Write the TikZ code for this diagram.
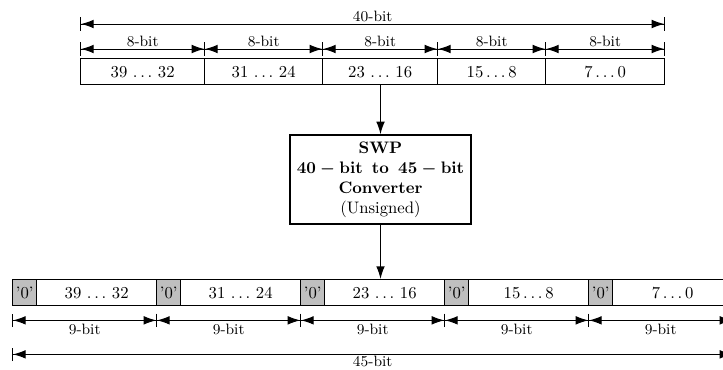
\documentclass[tikz,border=0pt]{standalone}
\usetikzlibrary{arrows.meta,positioning}
\newlength\px
\setlength\px{0.6pt}
\tikzset{
  cell/.style={draw,thick,minimum height=26\px,inner sep=0pt,anchor=north west},
  zerocell/.style={cell,fill=black!25,minimum width=24\px},
  datacell/.style={cell,minimum width=120\px},
  dimline/.style={semithick,{Bar[width=8pt]Latex[length=7.6pt,width=5.2pt]}-{Latex[length=7.6pt,width=5.2pt]Bar[width=8pt]}},
  dimlabel/.style={font=\small,inner sep=1pt},
  flow/.style={-{Latex[length=7.6pt,width=5.2pt]},thick}
}
\begin{document}
\begin{tikzpicture}[x=\px,y=-\px]
\useasboundingbox (0,0) rectangle (723,369);
% 40-bit input word
\foreach \n/\x/\w/\t in {a/80/124/{39 $\ldots$ 32},b/204/118/{31 $\ldots$ 24},c/322/115/{23 $\ldots$ 16},d/437/108/{$15\ldots8$},e/545/119/{$7\ldots0$}}{
  \node[cell,minimum width=\w\px] (in\n) at (\x,58) {\t};
  \draw[dimline] ([yshift=9\px]in\n.north west) -- node[dimlabel,above]{8-bit} ([yshift=9\px]in\n.north east);
}
\draw[dimline] ([yshift=34\px]ina.north west) -- node[dimlabel,above]{40-bit} ([yshift=34\px]ine.north east);
% converter
\node[draw,thick,minimum width=181\px,minimum height=89\px,align=center,inner sep=2pt] (swp) at (380.5,179.5)
  {\textbf{SWP}\\\textbf{\boldmath$40-\mathrm{bit}$\ \,to\ \,\boldmath$45-\mathrm{bit}$}\\\textbf{Converter}\\(Unsigned)};
% 45-bit output word
\foreach \n/\x/\t in {a/12/{39 $\ldots$ 32},b/156/{31 $\ldots$ 24},c/300/{23 $\ldots$ 16},d/444/{$15\ldots8$},e/588/{$7\ldots0$}}{
  \node[zerocell] (zero\n) at (\x,279) {'0'};
  \node[datacell] (out\n) at (\x+24,279) {\t};
  \draw[dimline] ([yshift=-14\px]zero\n.south west) -- node[dimlabel,below=2\px]{9-bit} ([yshift=-14\px]out\n.south east);
}
\draw[dimline] ([yshift=-48\px]zeroa.south west) -- node[dimlabel,below]{45-bit} ([yshift=-48\px]oute.south east);
\draw[flow] (swp.north |- inc.south) -- (swp.north);
\draw[flow] (swp.south) -- (swp.south |- outc.north);
\end{tikzpicture}
\end{document}
